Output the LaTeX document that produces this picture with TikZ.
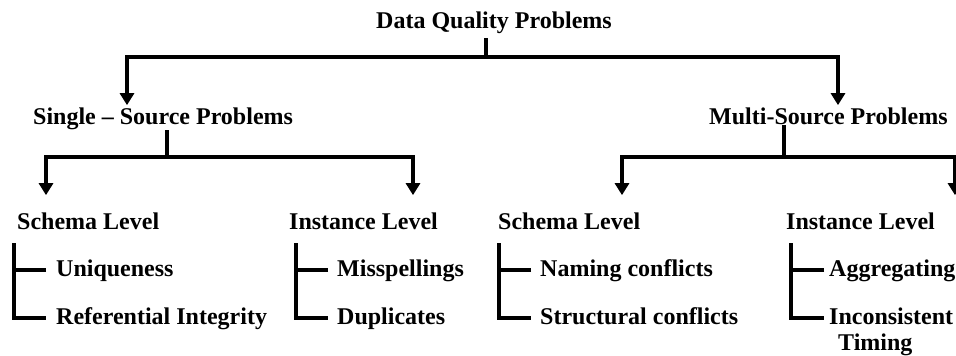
\documentclass[tikz,border=0pt]{standalone}
\usepackage{fontspec}
\setmainfont{Liberation Serif}
\usetikzlibrary{arrows.meta}
\begin{document}
\begin{tikzpicture}[x=1pt,y=-1pt,
  lbl/.style={anchor=base west, inner sep=0pt, font=\bfseries\fontsize{24}{29}\selectfont},
  wire/.style={line width=4pt, line join=miter},
  arr/.style={wire, -{Triangle[width=14pt,length=12pt]}}]
\useasboundingbox (0,0) rectangle (956,356);
\clip (0,0) rectangle (956,356);

% labels
\node[lbl] (dq)  at (376,28)  {Data Quality Problems};
\node[lbl] (ss)  at (33,124)  {Single -- Source Problems};
\node[lbl] (ms)  at (709,124) {Multi-Source Problems};
\node[lbl] (sl1) at (17,229)  {Schema Level};
\node[lbl] (il1) at (289,229) {Instance Level};
\node[lbl] (sl2) at (498,229) {Schema Level};
\node[lbl] (il2) at (786,229) {Instance Level};
\node[lbl] (u)   at (56,276)  {Uniqueness};
\node[lbl] (ri)  at (56,324)  {Referential Integrity};
\node[lbl] (mis) at (337,276) {Misspellings};
\node[lbl] (dup) at (337,324) {Duplicates};
\node[lbl] (nc)  at (540,276) {Naming conflicts};
\node[lbl] (sc)  at (540,324) {Structural conflicts};
\node[lbl] (ag)  at (829,276) {Aggregating};
\node[lbl] (inc) at (829,324) {Inconsistent};
\node[lbl] (tim) at (838,350) {Timing};

% top split
\coordinate (j0) at (486,57);
\coordinate (a1) at (127,57);
\coordinate (a2) at (838,57);
\draw[wire] ([yshift=-5pt]dq.south -| j0) -- (j0);
\draw[arr] (j0) -| ([yshift=2pt]ss.north -| a1);
\draw[arr] (j0) -| ([yshift=2pt]ms.north -| a2);

% single-source split
\coordinate (j1) at (167,157);
\coordinate (b1) at (46,157);
\coordinate (b2) at (413,157);
\draw[wire] ([yshift=-1pt]ss.south -| j1) -- (j1);
\draw[arr] (j1) -| ([yshift=17pt]sl1.north -| b1);
\draw[arr] (j1) -| ([yshift=17pt]il1.north -| b2);

% multi-source split
\coordinate (j2) at (784,157);
\coordinate (b3) at (622,157);
\coordinate (b4) at (955,157);
\draw[wire] ([yshift=-1pt]ms.south -| j2) -- (j2);
\draw[arr] (j2) -| ([yshift=17pt]sl2.north -| b3);
\draw[arr] (j2) -| ([yshift=17pt]il2.north -| b4);

% brackets
\coordinate (v1) at (14,0);
\coordinate (v2) at (296,0);
\coordinate (v3) at (499,0);
\coordinate (v4) at (791,0);
\coordinate (ue)   at ([shift={(-10pt,6pt)}]u.base west);
\coordinate (rie)  at ([shift={(-10pt,6pt)}]ri.base west);
\coordinate (mise) at ([shift={(-9pt,6pt)}]mis.base west);
\coordinate (dupe) at ([shift={(-9pt,6pt)}]dup.base west);
\coordinate (nce)  at ([shift={(-9pt,6pt)}]nc.base west);
\coordinate (sce)  at ([shift={(-9pt,6pt)}]sc.base west);
\coordinate (age)  at ([shift={(-5pt,6pt)}]ag.base west);
\coordinate (ince) at ([shift={(-5pt,6pt)}]inc.base west);

\draw[wire] ([yshift=-14pt]sl1.base -| v1) |- (rie);
\draw[wire] (ue) -- (ue -| v1);
\draw[wire] ([yshift=-14pt]il1.base -| v2) |- (dupe);
\draw[wire] (mise) -- (mise -| v2);
\draw[wire] ([yshift=-14pt]sl2.base -| v3) |- (sce);
\draw[wire] (nce) -- (nce -| v3);
\draw[wire] ([yshift=-14pt]il2.base -| v4) |- (ince);
\draw[wire] (age) -- (age -| v4);
\end{tikzpicture}
\end{document}
